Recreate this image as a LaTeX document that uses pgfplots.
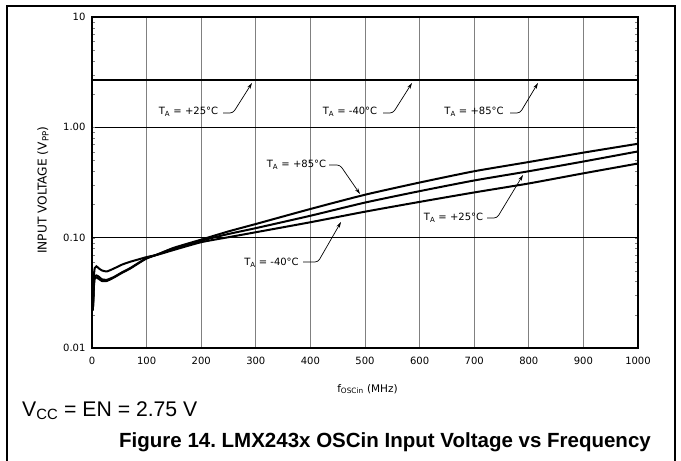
\documentclass[border=0pt]{standalone}
\usepackage{fontspec}
\setmainfont{Liberation Sans}
\newfontfamily\chartfont{DejaVu Sans}
\usepackage{pgfplots}
\pgfplotsset{compat=1.18}
\usetikzlibrary{arrows.meta}
\newcommand{\TA}[1]{T\textsubscript{A} = #1°C}
\frenchspacing
\begin{document}
\begin{tikzpicture}
\begin{axis}[
  at={(0pt,0pt)}, anchor=south west,
  scale only axis, width=546pt, height=331pt,
  xmin=0, xmax=1000, ymin=0.01, ymax=10, ymode=log,
  xtick={0,100,200,300,400,500,600,700,800,900,1000},
  xticklabels={0,100,200,300,400,500,600,700,800,900,1000},
  ytick={0.01,0.1,1,10},
  yticklabels={0.01,0.10,1.00,10},
  minor ytick={},
  major tick length=0pt,
  xmajorgrids, ymajorgrids,
  x grid style={black!50, line width=1pt},
  y grid style={black, line width=0.8pt},
  axis line style={line width=1.3pt},
  tick label style={font=\chartfont\fontsize{10}{12}\selectfont},
  xticklabel style={anchor=base, yshift=-16pt},
  yticklabel style={anchor=east, xshift=-3pt},
  xlabel={f\textsubscript{OSCin} (MHz)},
  xlabel style={font=\chartfont\fontsize{10.5}{12}\selectfont, at={(axis description cs:0.5046,-0.133)}, anchor=base},
  ylabel={INPUT VOLTAGE (V\textsubscript{PP})},
  ylabel style={font=\chartfont\fontsize{12.2}{14}\selectfont, at={(axis description cs:-0.0897,0.477)}, anchor=center},
  clip=true,
]
% maximum input voltage line
\addplot[black, line width=2.2pt] coordinates {(0,2.7) (1000,2.7)};
% TA = -40 C
\addplot[black, line width=2pt, smooth, tension=0.35] coordinates {
(1.5,0.022) (2.5,0.030) (3.5,0.045) (5,0.053) (8,0.055) (12,0.053) (18,0.0505) (27,0.0494)
(40,0.0525) (55,0.057) (70,0.0605) (85,0.0635) (100,0.0667) (120,0.070) (150,0.0775)
(200,0.091) (250,0.101) (300,0.112) (400,0.138) (500,0.172) (600,0.211) (700,0.257)
(800,0.31) (900,0.383) (1000,0.47)};
% TA = +25 C
\addplot[black, line width=2pt, smooth, tension=0.35] coordinates {
(1.5,0.022) (2.5,0.028) (3.5,0.038) (5,0.0445) (8,0.0455) (12,0.0445) (18,0.042) (27,0.0415)
(40,0.044) (55,0.0485) (70,0.053) (85,0.059) (100,0.0652) (120,0.0705) (150,0.080)
(200,0.094) (250,0.108) (300,0.122) (400,0.158) (500,0.208) (600,0.264) (700,0.33)
(800,0.40) (900,0.49) (1000,0.605)};
% TA = +85 C
\addplot[black, line width=2pt, smooth, tension=0.35] coordinates {
(1.5,0.022) (2.5,0.027) (3.5,0.036) (5,0.043) (8,0.0435) (12,0.0425) (18,0.0405) (27,0.0405)
(40,0.0435) (55,0.048) (70,0.0525) (85,0.0585) (100,0.0648) (120,0.0705) (150,0.081)
(200,0.096) (250,0.114) (300,0.133) (400,0.182) (500,0.245) (600,0.316) (700,0.40)
(800,0.485) (900,0.59) (1000,0.71)};
\end{axis}
% annotations (1pt = 1px; axis lower-left corner at pixel (92,348))
\begin{scope}[every node/.style={font=\chartfont\fontsize{10}{12}\selectfont, inner sep=0pt},
  lead/.style={line width=0.7pt, rounded corners=3pt, -{Stealth[length=6pt,width=3.5pt]}}]
  \node at (96.5pt,236pt) {\TA{+25}};
  \draw[lead] (131pt,235pt) -- (141pt,235pt) -- (160pt,265pt);
  \node at (258pt,236pt) {\TA{-40}};
  \draw[lead] (291pt,235pt) -- (301pt,235pt) -- (320pt,265pt);
  \node at (382pt,236pt) {\TA{+85}};
  \draw[lead] (418pt,235pt) -- (428pt,235pt) -- (446pt,265pt);
  \node at (204.5pt,183pt) {\TA{+85}};
  \draw[lead] (237pt,183pt) -- (248pt,183pt) -- (268pt,154pt);
  \node at (361.5pt,130pt) {\TA{+25}};
  \draw[lead] (395pt,130pt) -- (405pt,130pt) -- (431pt,173pt);
  \node at (179.5pt,85pt) {\TA{-40}};
  \draw[lead] (211pt,86pt) -- (226pt,86pt) -- (249pt,126pt);
\end{scope}
% caption texts
\node[anchor=base west, inner sep=0pt, font=\fontsize{21.2}{24}\selectfont] at (-70pt,-68pt) {V\textsubscript{CC} = EN = 2.75 V};
\node[anchor=base, inner sep=0pt, font=\bfseries\fontsize{20.5}{24}\selectfont] at (293pt,-99pt) {Figure 14. LMX243x OSCin Input Voltage vs Frequency};
% outer frame
\draw[line width=1.5pt] (-85pt,-113pt) -- (-85pt,342pt) -- (583pt,342pt) -- (583pt,-113pt);
\pgfresetboundingbox
\path[use as bounding box] (-92pt,-113pt) rectangle (589pt,348pt);
\end{tikzpicture}
\end{document}
